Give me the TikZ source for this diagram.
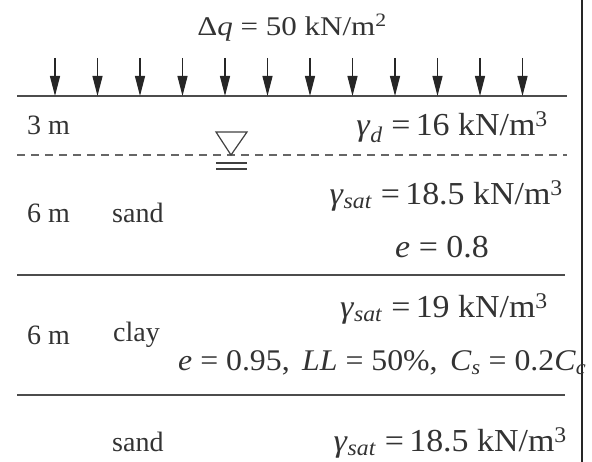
\documentclass[tikz,border=0pt]{standalone}
\usepackage{fontspec}
\setmainfont{Liberation Serif}
\newfontfamily\eqfont{Liberation Serif}[FakeStretch=1.06]
\newfontfamily\topfont{Liberation Serif}[FakeStretch=1.15]
\usetikzlibrary{arrows.meta}
\newcommand{\gsub}[1]{\textit{γ}\textsubscript{\textit{#1}}}
\newcommand{\kNm}[1]{kN/m\textsuperscript{#1}}
\tikzset{
  /tikz/.cd,
  label/.style={inner sep=0pt,font=\fontsize{28}{30}\selectfont,text=black!80},
  soil/.style={inner sep=0pt,font=\eqfont\fontsize{32}{36}\selectfont,text=black!80},
  layer/.style={line width=1.5pt,draw=black!70},
  load/.style={line width=1.2pt,draw=black!85,-{Triangle[length=20pt,width=10pt]}}
}

\begin{document}
\begin{tikzpicture}[x=1pt,y=-1pt]
      \useasboundingbox (0,0) rectangle (592,462);

      \node[label,font=\topfont\fontsize{27}{30}\selectfont] (dq) at (292,28) {Δ\textit{q} = 50 \kNm{2}};

      % ground surface and load
      \coordinate (gl) at (17,96);
      \coordinate (gr) at (567,96);
      \draw[layer,line width=1.7pt] (gl) -- (gr);
      \foreach \i in {0,...,11}{
        \coordinate (a\i) at (55+42.5*\i,58);
        \draw[load] (a\i) -- (a\i |- gl);
      }

      % water table
      \coordinate (wl) at (17,155);
      \coordinate (wr) at (567,155);
      \draw[layer,line width=1.2pt,dash pattern=on 8pt off 6pt,draw=black!60] (wl) -- (wr);
      \draw[line width=1.2pt,draw=black!75] (216,132) -- (247,132) -- (231,155) -- cycle;
      \draw[line width=1.2pt,draw=black!75] (216,163) -- (247,163) (216,169) -- (247,169);

      % layer boundaries
      \coordinate (s1l) at (17,275);
      \coordinate (s1r) at (565,275);
      \coordinate (s2l) at (17,395);
      \coordinate (s2r) at (565,395);
      \draw[layer] (s1l) -- (s1r);
      \draw[layer] (s2l) -- (s2r);
      \draw[line width=1.5pt,draw=black!85] (582,0) -- (582,462);

      \node[label,anchor=west] (h1) at (27,125) {3 m};
      \node[soil,anchor=east] (gd) at (548,127) {\gsub{d} =\,16 \kNm{3}};

      \node[label,anchor=west] (h2) at (27,213) {6 m};
      \node[label,anchor=west] (sand1) at (112,213) {sand};
      \node[soil,anchor=east] (gs1) at (563,196) {\gsub{sat} =\,18.5 \kNm{3}};
      \node[soil] (e1) at (442,247) {\textit{e} = 0.8};

      \node[label,anchor=west] (h3) at (27,335) {6 m};
      \node[label,anchor=west] (clay) at (113,335) {clay};
      \node[soil,anchor=east] (gs2) at (548,309) {\gsub{sat} =\,19 \kNm{3}};
      \node[soil,anchor=west,font=\eqfont\fontsize{30}{36}\selectfont] (e2) at (178,363) {\textit{e} = 0.95,\hspace{0.15em} \textit{LL} = 50\%,\hspace{0.15em} \textit{C}\textsubscript{\textit{s}} = 0.2\textit{C}\textsubscript{\textit{c}}};

      \node[label,anchor=west] (sand2) at (112,442) {sand};
      \node[soil,anchor=east] (gs3) at (567,443) {\gsub{sat} =\,18.5 \kNm{3}};
    \end{tikzpicture}
\end{document}
